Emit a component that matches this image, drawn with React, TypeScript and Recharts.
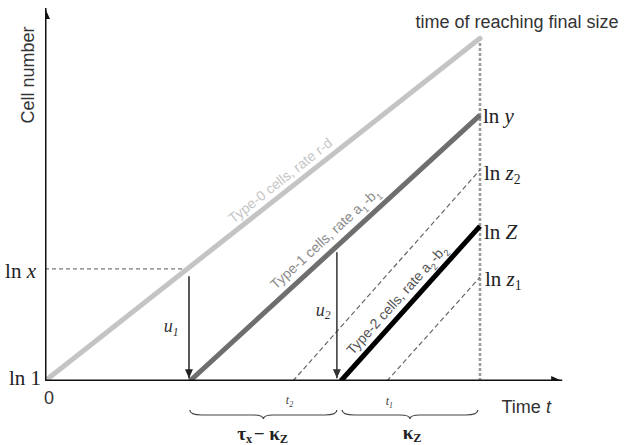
import React from 'react';
import { ComposedChart, Line, XAxis, YAxis, ReferenceDot, ReferenceLine } from 'recharts';

type Pt = { t: number; v: number };

// growth lines (time t, log cell number v)
const type0: Pt[] = [{ t: 0, v: 0 }, { t: 10, v: 10 }];
const type1: Pt[] = [{ t: 3.33, v: 0 }, { t: 10, v: 7.76 }];
const type2: Pt[] = [{ t: 6.8, v: 0 }, { t: 10, v: 4.52 }];

// dashed helper lines
const z2Guide: Pt[] = [{ t: 5.7, v: 0 }, { t: 10, v: 6.16 }];
const z1Guide: Pt[] = [{ t: 7.86, v: 0 }, { t: 10, v: 3.03 }];
const lnxGuide: Pt[] = [{ t: 0, v: 3.27 }, { t: 3.27, v: 3.27 }];
const finalTime: Pt[] = [{ t: 10, v: 0 }, { t: 10, v: 10 }];

// arrows
const u1Arrow: Pt[] = [{ t: 3.31, v: 3.06 }, { t: 3.31, v: 0.08 }];
const u2Arrow: Pt[] = [{ t: 6.71, v: 3.76 }, { t: 6.71, v: 0.08 }];
const xAxisLine: Pt[] = [{ t: 0, v: 0 }, { t: 11.89, v: 0 }];
const yAxisLine: Pt[] = [{ t: 0, v: 0 }, { t: 0, v: 10.88 }];

// braces under the time axis
const brace1 = [3.33, 6.71];
const brace2 = [6.83, 9.95];

const SANS = '"Liberation Sans", Arial, sans-serif';
const SERIF = '"Liberation Serif", "Times New Roman", serif';

const arrowHead = (dir: 'up' | 'down' | 'right', color: string, len = 11, half = 5) => (p: any) => {
  const key = `dot-${p.index}`;
  if (p.index !== 1) return <g key={key} />;
  const { cx, cy } = p;
  let pts = '';
  if (dir === 'right') pts = `${cx},${cy} ${cx - len},${cy - half} ${cx - len},${cy + half}`;
  if (dir === 'up') pts = `${cx},${cy} ${cx - half},${cy + len} ${cx + half},${cy + len}`;
  if (dir === 'down') pts = `${cx},${cy} ${cx - half},${cy - len} ${cx + half},${cy - len}`;
  return <polygon key={key} points={pts} fill={color} />;
};

const note = (key: string, t: number, v: number, render: (x: number, y: number) => React.ReactNode) => (
  <ReferenceDot
    key={key}
    x={t}
    y={v}
    r={0}
    fill="none"
    stroke="none"
    ifOverflow="visible"
    label={{ content: (p: any) => render(p.viewBox.x, p.viewBox.y) }}
  />
);

const bracePath = (x1: number, x2: number, y0: number) => {
  const m = (x1 + x2) / 2;
  const d = 5;
  return `M${x1},${y0} Q${x1},${y0 + d} ${x1 + 12},${y0 + d} L${m - 10},${y0 + d} Q${m},${y0 + d} ${m},${y0 + 9} Q${m},${y0 + d} ${m + 10},${y0 + d} L${x2 - 12},${y0 + d} Q${x2},${y0 + d} ${x2},${y0}`;
};

const brace = (key: string, span: number[], render: (mid: number, y: number) => React.ReactNode) => (
  <ReferenceLine
    key={key}
    segment={[{ x: span[0], y: 0 }, { x: span[1], y: 0 }]}
    stroke="none"
    ifOverflow="visible"
    label={{
      content: (p: any) => {
        const { x, y, width } = p.viewBox;
        return (
          <g>
            <path d={bracePath(x, x + width, y + 29)} fill="none" stroke="#444" strokeWidth={1.2} />
            {render(x + width / 2, y)}
          </g>
        );
      },
    }}
  />
);

const lineLabel = (x: number, y: number, angle: number, off: number, color: string, size: number, body: React.ReactNode) => (
  <text
    transform={`translate(${x},${y}) rotate(${angle})`}
    x={0}
    y={off}
    textAnchor="middle"
    fontFamily={SANS}
    fontSize={size}
    fill={color}
  >
    {body}
  </text>
);

const sub = (s: string, size: number) => (
  <>
    <tspan dy={size * 0.3} fontSize={size * 0.65}>{s}</tspan>
    <tspan dy={-size * 0.3}>{'\u200a'}</tspan>
  </>
);

export default function App() {
  return (
    <div style={{ position: 'absolute', left: 0, top: 0, background: '#fff' }}>
      <ComposedChart width={624} height={445} margin={{ top: 4, right: 57, bottom: 64, left: 45 }}>
        <XAxis dataKey="t" type="number" domain={[0, 12]} hide allowDataOverflow />
        <YAxis dataKey="v" type="number" domain={[0, 11]} hide allowDataOverflow />

        <Line data={finalTime} dataKey="v" type="linear" stroke="#999" strokeWidth={2.5} strokeDasharray="3 2" dot={false} isAnimationActive={false} />
        <Line data={lnxGuide} dataKey="v" type="linear" stroke="#555" strokeWidth={1} strokeDasharray="4 3" dot={false} isAnimationActive={false} />
        <Line data={z2Guide} dataKey="v" type="linear" stroke="#666" strokeWidth={1.2} strokeDasharray="5 3" dot={false} isAnimationActive={false} />
        <Line data={z1Guide} dataKey="v" type="linear" stroke="#666" strokeWidth={1.2} strokeDasharray="5 3" dot={false} isAnimationActive={false} />

        <Line data={type0} dataKey="v" type="linear" stroke="#c4c4c4" strokeWidth={5} strokeLinecap="round" dot={false} isAnimationActive={false} />
        <Line data={type1} dataKey="v" type="linear" stroke="#6e6e6e" strokeWidth={5} dot={false} isAnimationActive={false} />
        <Line data={type2} dataKey="v" type="linear" stroke="#000" strokeWidth={5} dot={false} isAnimationActive={false} />

        <Line data={u1Arrow} dataKey="v" type="linear" stroke="#222" strokeWidth={1.5} dot={arrowHead('down', '#222', 9, 4)} isAnimationActive={false} />
        <Line data={u2Arrow} dataKey="v" type="linear" stroke="#333" strokeWidth={1.5} dot={arrowHead('down', '#333', 9, 4)} isAnimationActive={false} />

        <Line data={xAxisLine} dataKey="v" type="linear" stroke="#111" strokeWidth={3} dot={arrowHead('right', '#111')} isAnimationActive={false} />
        <Line data={yAxisLine} dataKey="v" type="linear" stroke="#111" strokeWidth={3} dot={arrowHead('up', '#111')} isAnimationActive={false} />

        {brace('b1', brace1, (m, y) => (
          <text x={m} y={y + 52} textAnchor="middle" dominantBaseline="central" fontFamily={SERIF} fontSize={19} fontWeight="bold" fill="#222">
            τ{sub('x', 19)}− κ{sub('Z', 19)}
          </text>
        ))}
        {brace('b2', brace2, (m, y) => (
          <text x={m + 3} y={y + 51} textAnchor="middle" dominantBaseline="central" fontFamily={SERIF} fontSize={19} fontWeight="bold" fill="#222">
            κ{sub('Z', 19)}
          </text>
        ))}

        {note('cell', 0, 8.93, (x, y) => (
          <text transform={`translate(${x - 17},${y}) rotate(-90)`} textAnchor="middle" dominantBaseline="central" fontFamily={SANS} fontSize={18} fill="#333">
            Cell number
          </text>
        ))}
        {note('final', 10, 10, (x, y) => (
          <text x={x + 37} y={y - 16} textAnchor="middle" dominantBaseline="central" fontFamily={SANS} fontSize={18} fill="#333">
            time of reaching final size
          </text>
        ))}
        {note('time', 11.89, 0, (x, y) => (
          <text x={x - 36} y={y + 26} textAnchor="middle" dominantBaseline="central" fontFamily={SANS} fontSize={18} fill="#333">
            Time <tspan fontStyle="italic">t</tspan>
          </text>
        ))}
        {note('zero', 0, 0, (x, y) => (
          <text x={x + 4} y={y + 17} textAnchor="middle" dominantBaseline="central" fontFamily={SANS} fontSize={18} fill="#333">
            0
          </text>
        ))}
        {note('ln1', 0, 0, (x, y) => (
          <text x={x - 4} y={y - 3} textAnchor="end" dominantBaseline="central" fontFamily={SERIF} fontSize={21} fill="#222">
            ln 1
          </text>
        ))}
        {note('lnx', 0, 3.27, (x, y) => (
          <text x={x - 9} y={y + 2} textAnchor="end" dominantBaseline="central" fontFamily={SERIF} fontSize={21} fill="#222">
            ln <tspan fontStyle="italic">x</tspan>
          </text>
        ))}
        {note('lny', 10, 7.76, (x, y) => (
          <text x={x + 3} y={y + 1} dominantBaseline="central" fontFamily={SERIF} fontSize={21} fill="#222">
            ln <tspan fontStyle="italic">y</tspan>
          </text>
        ))}
        {note('lnz2', 10, 6.16, (x, y) => (
          <text x={x + 4} y={y + 3} dominantBaseline="central" fontFamily={SERIF} fontSize={21} fill="#222">
            ln <tspan fontStyle="italic">z</tspan>{sub('2', 21)}
          </text>
        ))}
        {note('lnZ', 10, 4.52, (x, y) => (
          <text x={x + 4} y={y + 6} dominantBaseline="central" fontFamily={SERIF} fontSize={21} fill="#222">
            ln <tspan fontStyle="italic">Z</tspan>
          </text>
        ))}
        {note('lnz1', 10, 3.03, (x, y) => (
          <text x={x + 5} y={y + 2} dominantBaseline="central" fontFamily={SERIF} fontSize={21} fill="#222">
            ln <tspan fontStyle="italic">z</tspan>{sub('1', 21)}
          </text>
        ))}
        {note('u1', 3.31, 1.6, (x, y) => (
          <text x={x - 17} y={y} textAnchor="middle" dominantBaseline="central" fontFamily={SERIF} fontSize={18} fontStyle="italic" fill="#333">
            u{sub('1', 18)}
          </text>
        ))}
        {note('u2', 6.71, 2.07, (x, y) => (
          <text x={x - 13} y={y} textAnchor="middle" dominantBaseline="central" fontFamily={SERIF} fontSize={18} fontStyle="italic" fill="#333">
            u{sub('2', 18)}
          </text>
        ))}
        {note('t2', 5.7, 0, (x, y) => (
          <text x={x - 3} y={y + 19} textAnchor="middle" dominantBaseline="central" fontFamily={SERIF} fontSize={12} fontStyle="italic" fill="#444">
            t{sub('2', 12)}
          </text>
        ))}
        {note('t1', 7.86, 0, (x, y) => (
          <text x={x + 3} y={y + 20} textAnchor="middle" dominantBaseline="central" fontFamily={SERIF} fontSize={12} fontStyle="italic" fill="#444">
            t{sub('1', 12)}
          </text>
        ))}

        {note('lab0', 5.58, 5.58, (x, y) => lineLabel(x, y, -38.3, -7, '#c6c6c6', 14, 'Type-0 cells, rate r-d'))}
        {note('lab1', 6.66, 3.874, (x, y) => lineLabel(x, y, -42.5, -9, '#8a8a8a', 14, <>Type-1 cells, rate a{sub('1', 14)}-b{sub('1', 14)}</>))}
        {note('lab2', 8.31, 2.133, (x, y) => lineLabel(x, y, -48, -8, '#555', 14, <>Type-2 cells, rate a{sub('2', 14)}-b{sub('2', 14)}</>))}
      </ComposedChart>
    </div>
  );
}
